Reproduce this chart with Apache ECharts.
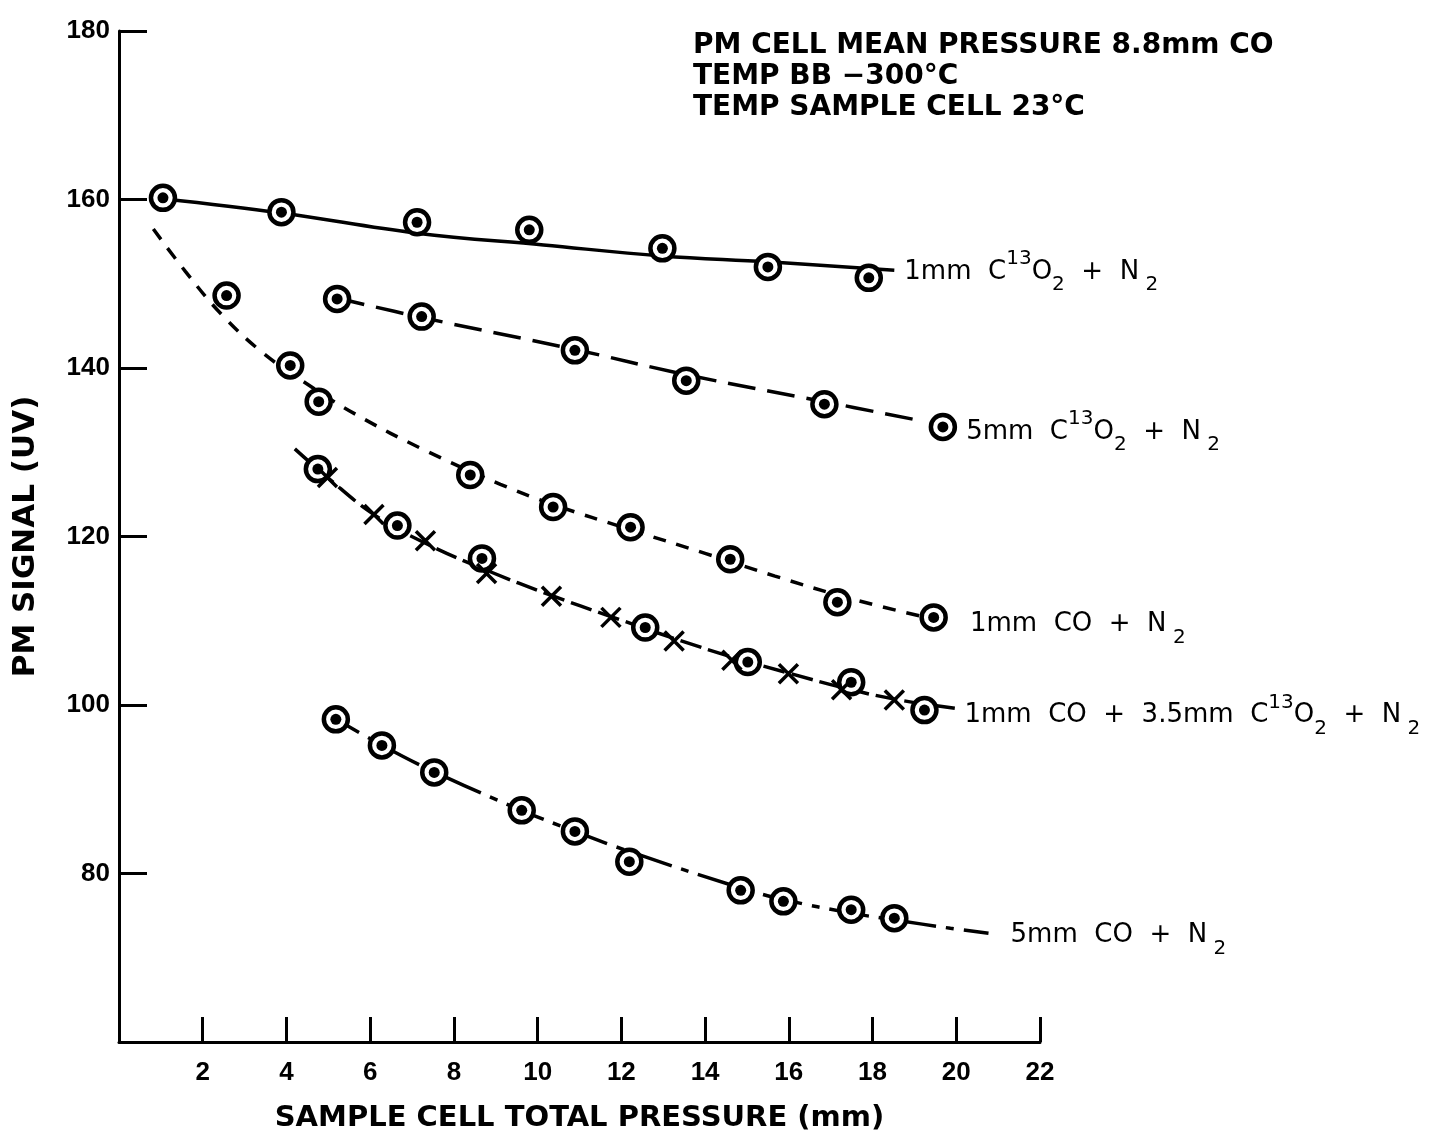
<!DOCTYPE html>
<html>
<head>
<meta charset="utf-8">
<script src="https://cdn.jsdelivr.net/npm/echarts@6/dist/echarts.min.js"></script>
<style>
html, body { margin: 0; padding: 0; background: #fff; }
#chart { width: 1431px; height: 1138px; }
</style>
</head>
<body>
<div id="chart"></div>
<script>
const a_x = [1.05, 3.88, 7.12, 9.80, 12.98, 15.50, 17.91];
const a_y = [160.2, 158.5, 157.3, 156.4, 154.2, 152.0, 150.7];
const b_x = [5.21, 7.23, 10.89, 13.55, 16.85, 19.68];
const b_y = [148.2, 146.1, 142.1, 138.5, 135.7, 133.0];
const c_x = [2.57, 4.09, 4.77, 8.39, 10.37, 12.22, 14.60, 17.16, 19.46];
const c_y = [148.6, 140.3, 136.0, 127.3, 123.5, 121.1, 117.3, 112.2, 110.4];
const d_x = [4.75, 6.65, 8.67, 12.57, 15.02, 17.49, 19.24];
const d_y = [128.0, 121.3, 117.4, 109.2, 105.1, 102.7, 99.4];
// crosses on the mixture curve
const dx_x = [4.98, 6.09, 7.32, 8.78, 10.33, 11.75, 13.26, 14.64, 15.99, 17.26, 18.52];
const dx_y = [127.0, 122.6, 119.5, 115.6, 112.9, 110.4, 107.6, 105.3, 103.7, 101.8, 100.6];
const e_x = [5.18, 6.28, 7.53, 9.62, 10.89, 12.19, 14.85, 15.87, 17.49, 18.52];
const e_y = [98.3, 95.2, 92.0, 87.5, 85.0, 81.4, 78.0, 76.7, 75.7, 74.7];

// hand drawn curves
const a_fit_x = [1.05, 3.88, 7.12, 10.14, 12.98, 15.50, 18.52];
const a_fit_y = [160.1, 158.4, 156.0, 154.6, 153.3, 152.6, 151.6];
const b_fit_x = [5.21, 7.23, 10.89, 13.55, 16.85, 18.99];
const b_fit_y = [148.3, 146.0, 142.2, 139.2, 136.0, 133.9];
const c_fit_x = [0.82, 1.58, 2.46, 3.41, 4.43, 5.69, 7.28, 9.11, 10.37, 12.22, 14.0, 15.67, 17.5, 19.44];
const c_fit_y = [156.5, 151.5, 146.3, 141.9, 138.3, 134.4, 130.3, 126.2, 123.8, 120.8, 118.0, 115.3, 112.6, 110.2];
const d_fit_x = [4.2, 4.98, 6.09, 7.32, 8.78, 10.33, 11.75, 13.26, 14.64, 15.99, 17.26, 18.52, 19.98];
const d_fit_y = [130.4, 127.0, 122.6, 119.2, 116.0, 113.0, 110.5, 107.9, 105.7, 103.8, 102.1, 100.7, 99.6];
const e_fit_x = [4.91, 6.29, 7.52, 9.61, 10.89, 12.2, 14.84, 15.88, 17.49, 18.51, 19.86, 20.77];
const e_fit_y = [99.1, 95.2, 92.1, 87.5, 85.0, 82.6, 78.3, 76.9, 75.3, 74.5, 73.5, 72.9];

const curveNames = [
  '{t|1mm  C}{sup|13}{t|O}{sub|2}{t|  +  N}{sub| 2}',
  '{t|5mm  C}{sup|13}{t|O}{sub|2}{t|  +  N}{sub| 2}',
  '{t|1mm  CO  +  N}{sub| 2}',
  '{t|1mm  CO  +  3.5mm  C}{sup|13}{t|O}{sub|2}{t|  +  N}{sub| 2}',
  '{t|5mm  CO  +  N}{sub| 2}'
];
const notes = [
  'PM CELL MEAN PRESSURE 8.8mm CO',
  'TEMP BB \u2212300\u00B0C',
  'TEMP SAMPLE CELL 23\u00B0C'
];

const FONT = '"DejaVu Sans", sans-serif';
const TICKFONT = '"Liberation Sans", Arial, sans-serif';
const rich = {
  t: { fontSize: 26, fontFamily: FONT, color: '#000', lineHeight: 46 },
  sup: { fontSize: 20, fontFamily: FONT, color: '#000', lineHeight: 20, verticalAlign: 'top' },
  sub: { fontSize: 20, fontFamily: FONT, color: '#000', lineHeight: 20, verticalAlign: 'bottom' }
};

const pairs = (xs, ys) => xs.map((x, i) => [x, ys[i]]);

function curve(xs, ys, dash, label, dist, dy) {
  const s = {
    type: 'line',
    data: pairs(xs, ys),
    smooth: 0.4,
    showSymbol: false,
    symbol: 'none',
    lineStyle: { color: '#000', width: 3.5, type: dash, opacity: 1 },
    z: 2,
    silent: true
  };
  if (label) {
    s.endLabel = { show: true, formatter: label, rich: rich, distance: dist, offset: [0, dy || 0] };
  }
  return s;
}

// ringed dot: white disc with black rim, then a black centre dot
function rings(xs, ys, label, dist, dy) {
  const data = pairs(xs, ys).map((p, i) => {
    const item = { value: p };
    if (label && i === xs.length - 1) {
      item.label = { show: true, position: 'right', distance: dist, offset: [0, dy || 0],
        formatter: label, rich: rich };
    }
    return item;
  });
  return [
    {
      type: 'scatter', data: data, symbol: 'circle', symbolSize: 24,
      itemStyle: { color: '#fff', borderColor: '#000', borderWidth: 4.5, opacity: 1 }, z: 3, silent: true
    },
    {
      type: 'scatter', data: pairs(xs, ys), symbol: 'circle', symbolSize: 11,
      itemStyle: { color: '#000', opacity: 1 }, z: 4, silent: true
    }
  ];
}

const chart = echarts.init(document.getElementById('chart'));
chart.setOption({
  backgroundColor: '#fff',
  animation: false,
  grid: { left: 119, right: 391, top: 31, bottom: 92 },
  graphic: [{
    type: 'text', left: 693, top: 30,
    style: { text: notes.join('\n'), font: 'bold 28px ' + FONT, fill: '#000', lineHeight: 31 }
  }],
  xAxis: {
    type: 'value', min: 0, max: 22, interval: 2,
    name: 'SAMPLE CELL TOTAL PRESSURE (mm)',
    nameLocation: 'middle', nameGap: 62,
    nameTextStyle: { fontSize: 29, fontWeight: 'bold', fontFamily: FONT, color: '#000' },
    axisLine: { lineStyle: { color: '#000', width: 3 } },
    axisTick: { inside: true, length: 25, lineStyle: { color: '#000', width: 3 } },
    axisLabel: { fontSize: 26, fontWeight: 'bold', fontFamily: TICKFONT, color: '#000', margin: 18,
      formatter: v => v === 0 ? '' : String(v) },
    splitLine: { show: false }
  },
  yAxis: {
    type: 'value', min: 60, max: 180, interval: 20,
    name: 'PM SIGNAL (UV)',
    nameLocation: 'middle', nameGap: 78, nameRotate: 90,
    nameTextStyle: { fontSize: 31, fontWeight: 'bold', fontFamily: FONT, color: '#000' },
    axisLine: { lineStyle: { color: '#000', width: 3 } },
    axisTick: { inside: true, length: 28, lineStyle: { color: '#000', width: 3 } },
    axisLabel: { fontSize: 26, fontWeight: 'bold', fontFamily: TICKFONT, color: '#000', margin: 9,
      formatter: v => v === 60 ? '' : String(v) },
    splitLine: { show: false }
  },
  series: [
    curve(a_fit_x, a_fit_y, 'solid', curveNames[0], 10, 2),
    curve(b_fit_x, b_fit_y, [28, 12], null),
    curve(c_fit_x, c_fit_y, [13, 11], null),
    curve(d_fit_x, d_fit_y, [22, 7], curveNames[3], 9, 7),
    curve(e_fit_x, e_fit_y, [40, 10, 8, 10], curveNames[4], 22, 2),
    ...rings(a_x, a_y, null),
    ...rings(b_x, b_y, curveNames[1], 9, 5),
    ...rings(c_x, c_y, curveNames[2], 22, 7),
    ...rings(d_x, d_y, null),
    {
      type: 'scatter', data: pairs(dx_x, dx_y),
      symbol: 'path://M0,0L10,10M10,0L0,10', symbolSize: 19,
      itemStyle: { color: 'none', borderColor: '#000', borderWidth: 3.5, opacity: 1 },
      z: 5, silent: true
    },
    ...rings(e_x, e_y, null)
  ]
});
</script>
</body>
</html>
